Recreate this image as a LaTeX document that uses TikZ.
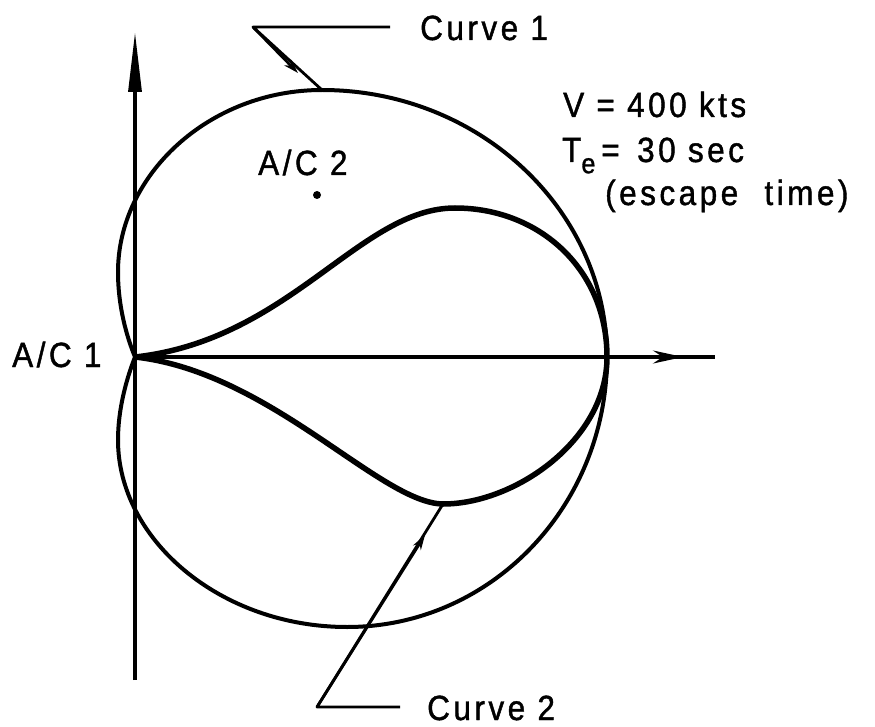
\documentclass[tikz,border=0pt]{standalone}
\usepackage{fontspec}
\setmainfont{Liberation Sans}[FakeStretch=0.9,LetterSpace=10,FakeBold=1.2]
\usepackage{tikz}
\usetikzlibrary{arrows.meta}

\begin{document}
\begin{tikzpicture}[x=1pt, y=-1pt, >={Stealth[length=15pt,width=9pt]},
  lbl/.style={anchor=base west, inner sep=0pt, font=\fontsize{35}{40}\selectfont},
  axisline/.style={line width=3.2pt},
  leader/.style={line width=2.8pt, line join=round},
  curveone/.style={line width=4pt},
  curvetwo/.style={line width=5.5pt}]
\useasboundingbox (0,0) rectangle (875,727);
% --- Axes ---
\coordinate (O) at (135,357);
\coordinate (ytop) at (135,32);
\coordinate (ybot) at (135,680);
\coordinate (xtip) at (683,357);
\coordinate (xend) at (715,357);
\draw[axisline, -{Triangle[length=60pt,width=13pt]}] (ybot) -- (ytop);
\draw[axisline] (O) -- (xend);
\draw[axisline, -{Stealth[length=30pt,width=13pt]}] (O) -- (xtip);

% --- Curve 1 ---
\coordinate (L1) at (118,272);
\coordinate (T) at (322,90);
\coordinate (R) at (607,357);
\coordinate (B) at (347,627);
\coordinate (L2) at (118,440);
\draw[curveone] (O) .. controls (126,335) and (118,305) .. (L1)
  .. controls (118,175) and (209,90) .. (T)
  .. controls (479,90) and (607,210) .. (R)
  .. controls (607,506) and (491,627) .. (B)
  .. controls (221,627) and (118,540) .. (L2)
  .. controls (118,410) and (126,380) .. (O);

% --- Curve 2 ---
\coordinate (P) at (455,208);
\coordinate (Q) at (443,504);
\draw[curvetwo] (O) .. controls (290,340) and (360,208) .. (P)
  .. controls (540,208) and (607,270) .. (R)
  .. controls (607,440) and (515,504) .. (Q)
  .. controls (380,503) and (270,372) .. (O);

% --- Aircraft ---
\fill (317,195) circle (4);
\node[lbl] (ac2) at (258,175) {A/C 2};
\node[lbl] (ac1) at (12,367) {A/C 1};

% --- Labels with leaders ---
\node[lbl] (c1lbl) at (420,40) {Curve 1};
\coordinate (c1a) at (390,27);
\coordinate (c1b) at (253,27);
\coordinate (c1tip) at (298,73);
\draw[leader] (c1a) -- (c1b) -- (T);
\draw[leader, ->] (c1b) -- (c1tip);

\node[lbl] (c2lbl) at (427,720) {Curve 2};
\coordinate (c2a) at (400,707);
\coordinate (c2b) at (317,707);
\coordinate (c2tip) at (425,535);
\draw[leader] (c2a) -- (c2b) -- (Q);
\draw[leader, ->] (c2b) -- (c2tip);

% --- Parameters ---
\node[lbl] (vel) at (563,117) {V = 400 kts};
\node[lbl] (te) at (562,162) {T\raisebox{-0.32em}{\fontsize{28}{28}\selectfont e}\,=\enspace 30 sec};
\node[lbl] (esc) at (605,205) {(escape\hspace{14pt} time)};
\end{tikzpicture}
\end{document}
